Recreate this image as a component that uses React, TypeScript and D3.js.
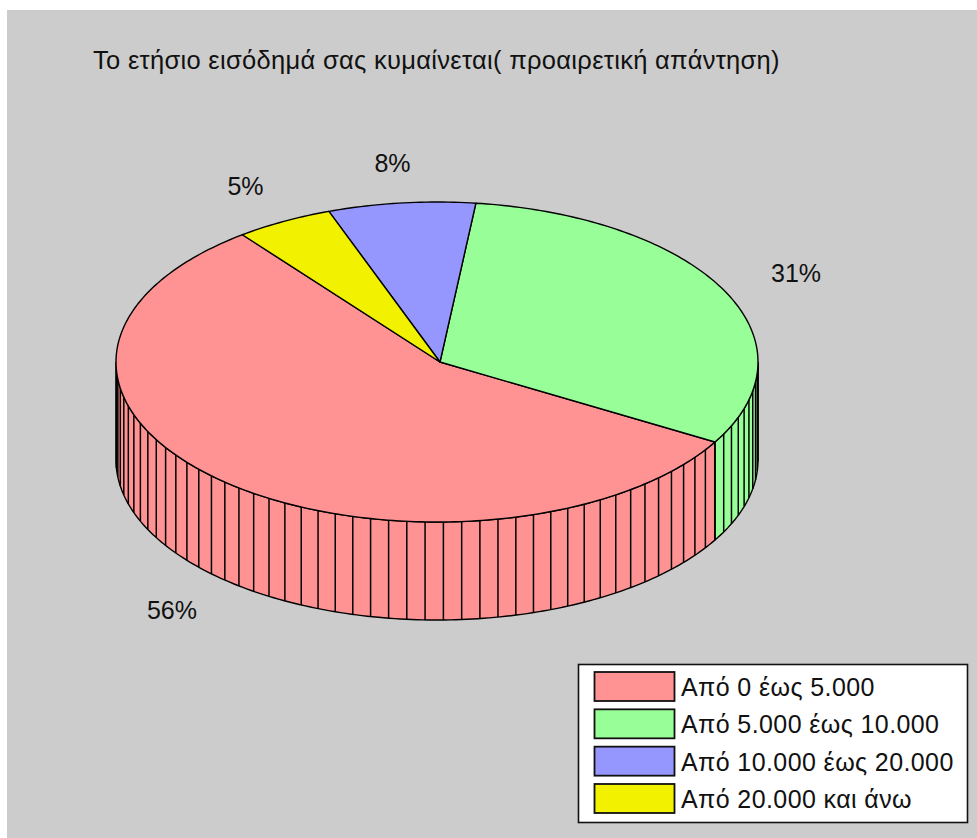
import React from 'react'
import * as d3 from 'd3'

// Chart data
const title = 'Το ετήσιο εισόδημά σας κυμαίνεται( προαιρετική απάντηση)'
const categories = ['Από 0 έως 5.000', 'Από 5.000 έως 10.000', 'Από 10.000 έως 20.000', 'Από 20.000 και άνω']
const shares = [56.3, 31.4, 7.4, 4.9]
const pctLabels = ['56%', '31%', '8%', '5%']
const colors = ['#ff9393', '#98ff98', '#9696ff', '#f2f200']

const W = 977, H = 838
const cx = 437, cy = 362, rx = 321, ry = 160, depth = 98
const apexDx = 3, apexDy = 0
const rad = (d: number) => (d * Math.PI) / 180

// the red slice ends at lower right, 120deg clockwise from the top
const pieEnd = rad(120)
const pieStart = pieEnd + (shares[0] / d3.sum(shares)) * 2 * Math.PI
const ribStep = rad(3.27)

const sx = d3.scaleLinear().domain([-1, 1]).range([cx - rx, cx + rx])
const sy = d3.scaleLinear().domain([-1, 1]).range([cy - ry, cy + ry])
const px = (a: number) => sx(Math.sin(a))
const py = (a: number) => sy(-Math.cos(a))

const line = d3.line<[number, number]>()

const sample = (lo: number, hi: number) => {
  const n = Math.max(2, Math.ceil((hi - lo) / rad(1)))
  return d3.range(n + 1).map(i => lo + ((hi - lo) * i) / n)
}

export default function App() {
  const arcs = d3.pie<number>().sort(null).startAngle(pieStart).endAngle(pieStart - 2 * Math.PI)(shares)

  // side wall only shows on the front half
  const walls = arcs.map((d, i) => {
    const lo = Math.max(d.endAngle, rad(90))
    const hi = Math.min(d.startAngle, rad(270))
    if (hi <= lo) return null
    const top = sample(lo, hi).map(a => [px(a), py(a)] as [number, number])
    const bottom = top.map(p => [p[0], p[1] + depth] as [number, number]).reverse()
    return <path key={i} d={line([...top, ...bottom]) + 'Z'} fill={colors[i]} stroke="#000" strokeWidth={1.4} />
  })

  const ribs = d3.range(-10, 50)
    .map(k => pieEnd + k * ribStep)
    .filter(a => a > rad(90) && a < rad(270))

  const legendRow = d3.scaleBand<number>().domain(d3.range(categories.length)).range([672, 813]).paddingInner(0.223)

  return (
    <svg width={W} height={H} style={{ position: 'absolute', left: 0, top: 0, background: '#fff' }}
      fontFamily="'Liberation Sans', Arial, sans-serif" fill="#111">
      <rect x={7} y={10} width={W - 7} height={H - 10} fill="#cccccc" />
      <text x={93} y={69} fontSize={25.5} letterSpacing={0.3}>{title}</text>

      {walls}
      {ribs.map((a, i) => (
        <line key={i} x1={px(a)} x2={px(a)} y1={py(a)} y2={py(a) + depth} stroke="#000" strokeWidth={1.5} />
      ))}

      {arcs.map((d, i) => {
        const pts = sample(d.endAngle, d.startAngle).map(a => [px(a), py(a)] as [number, number])
        return <path key={i} d={line([[cx + apexDx, cy + apexDy], ...pts]) + 'Z'}
          fill={colors[i]} stroke="#000" strokeWidth={1.4} strokeLinejoin="round" />
      })}

      {arcs.map((d, i) => {
        const mid = (d.startAngle + d.endAngle) / 2
        const front = Math.cos(mid) < 0
        return (
          <text key={i} textAnchor="middle" fontSize={25}
            x={cx + 1.25 * rx * Math.sin(mid)}
            y={cy - 1.25 * ry * Math.cos(mid) + (front ? depth : 0) + 9}>
            {pctLabels[i]}
          </text>
        )
      })}

      <rect x={578.5} y={664.5} width={389} height={158} fill="#fff" stroke="#111" strokeWidth={1.6} />
      {categories.map((c, i) => (
        <g key={c} transform={`translate(0,${legendRow(i)})`}>
          <rect x={594.5} y={0} width={80} height={legendRow.bandwidth()} fill={colors[i]} stroke="#111" strokeWidth={1.8} />
          <text x={681} y={24} fontSize={25} letterSpacing={0.4}>{c}</text>
        </g>
      ))}
    </svg>
  )
}
